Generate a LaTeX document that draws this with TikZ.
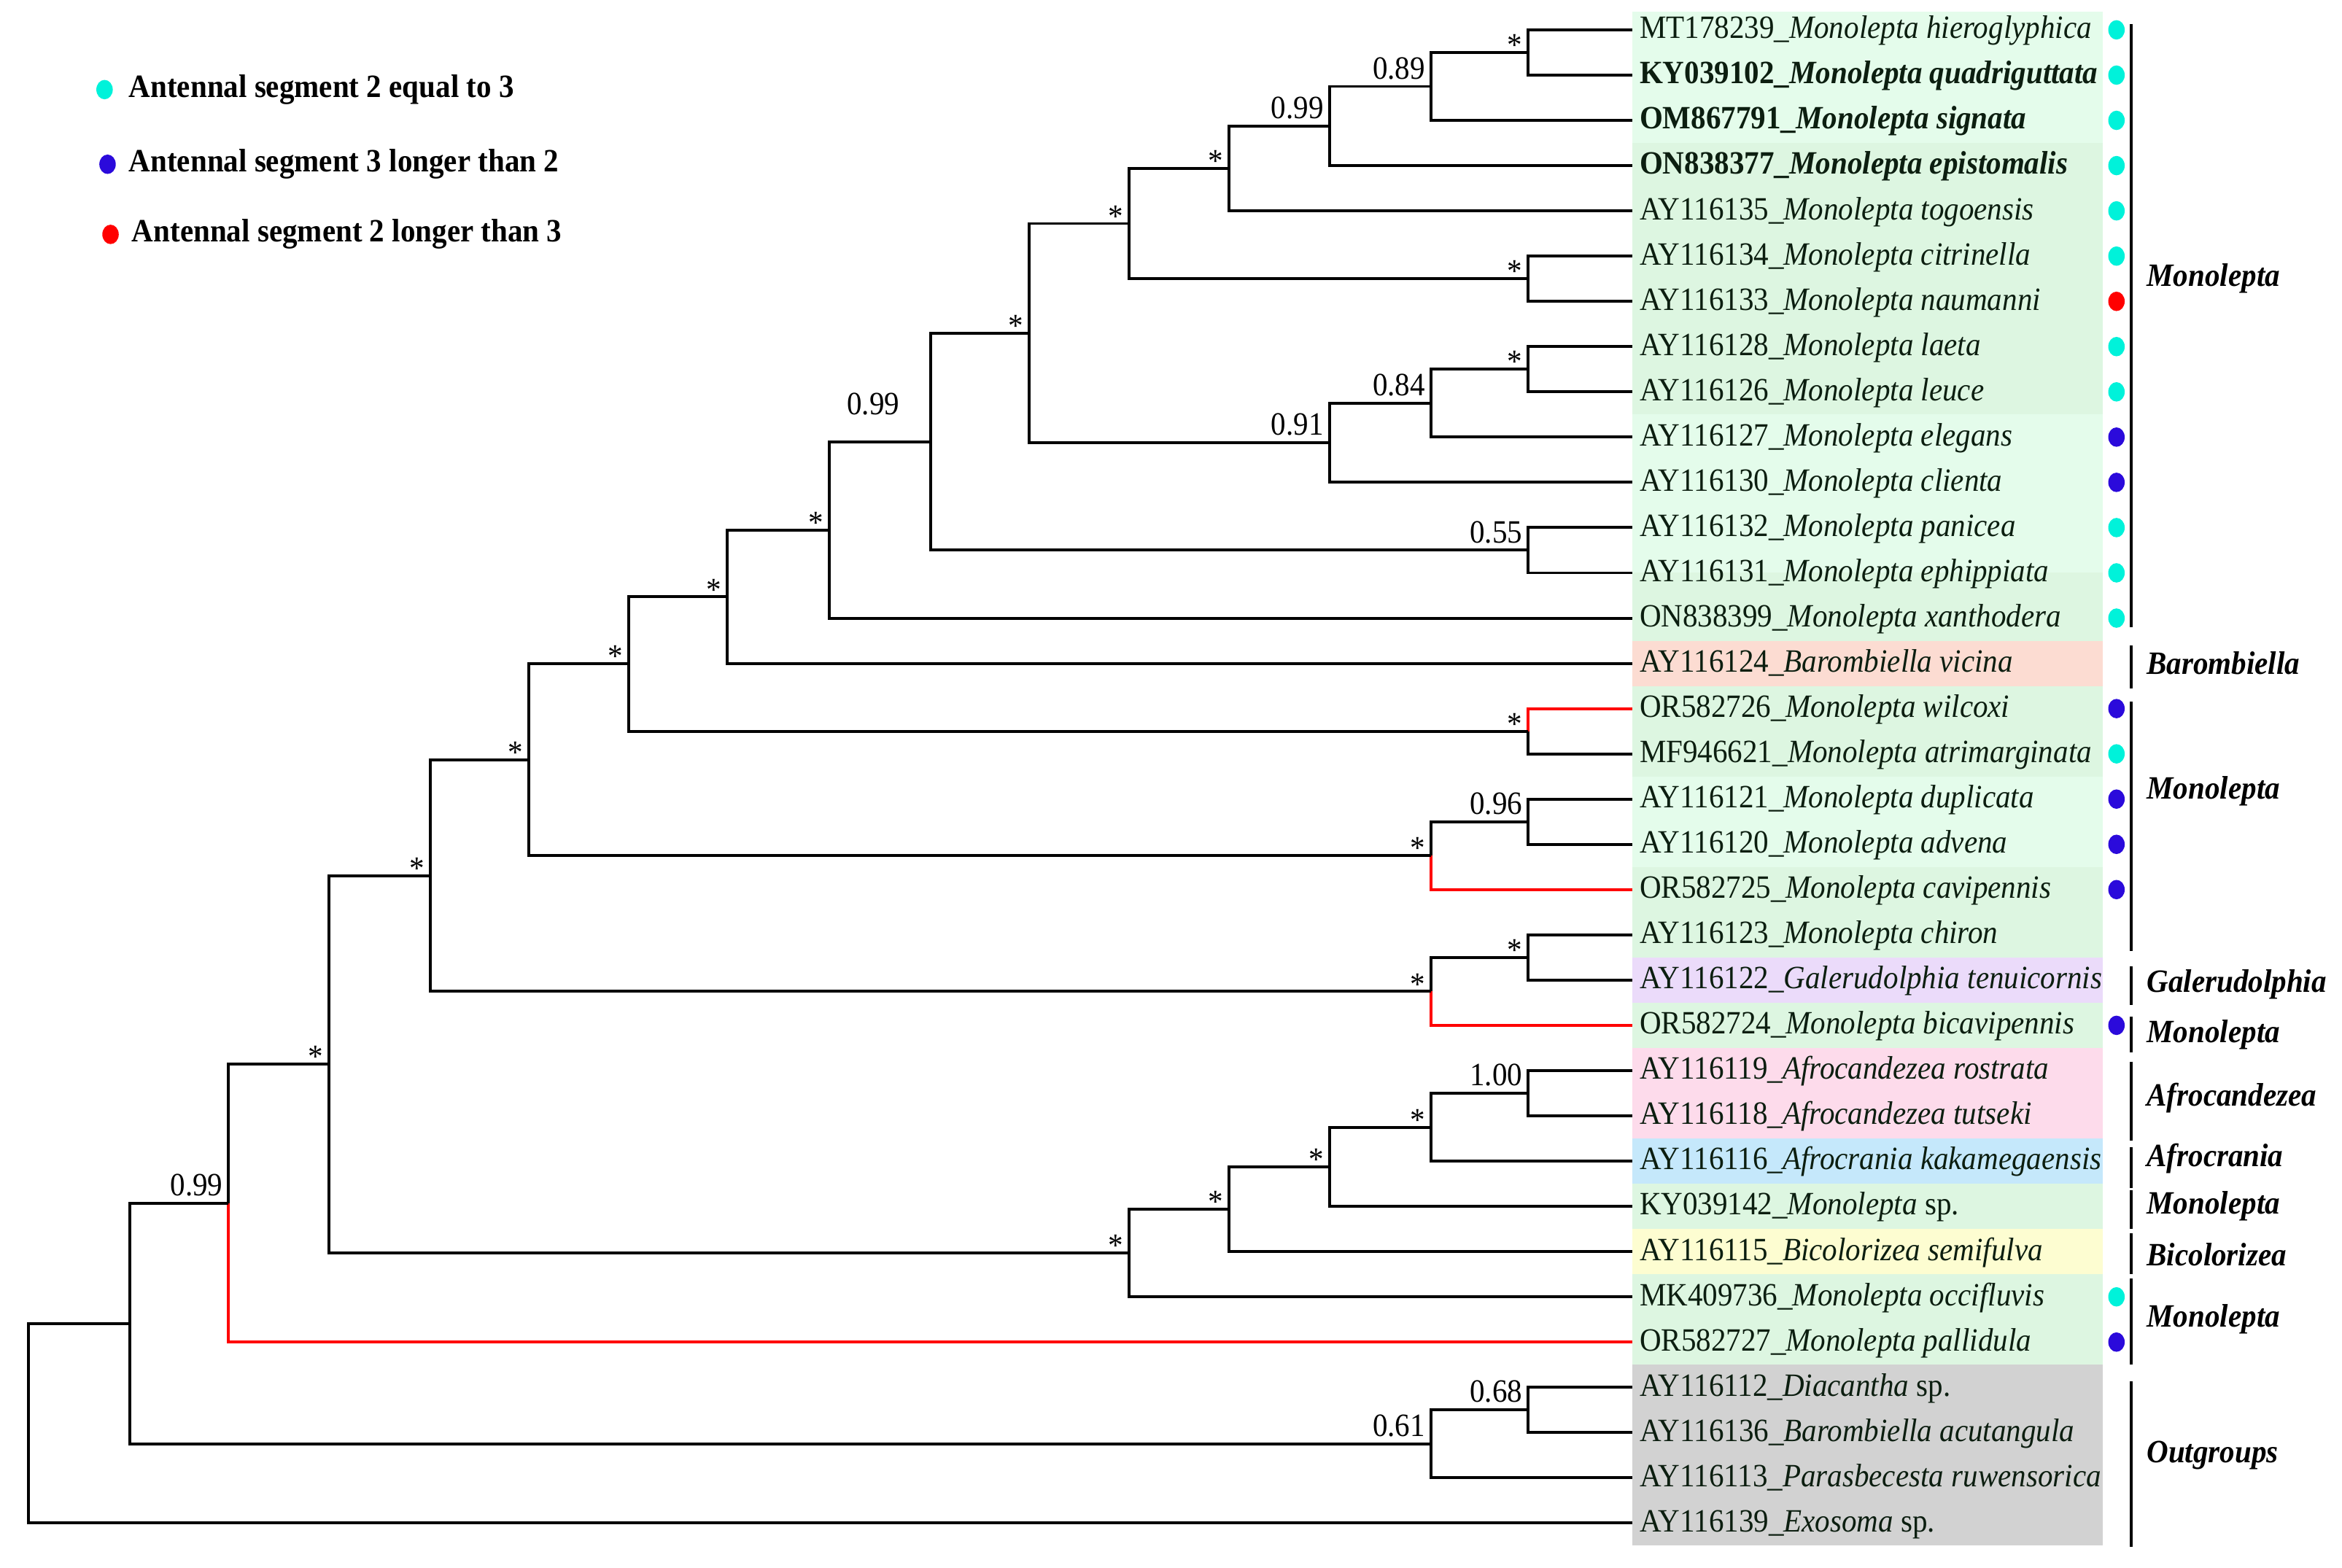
\documentclass[tikz,border=0pt]{standalone}
\usepackage{fontspec}
\setmainfont{Liberation Serif}[FakeStretch=0.92]
\usepackage{tikz}

\definecolor{bandA}{HTML}{E4FCEB}
\definecolor{bandB}{HTML}{DDF6E1}
\definecolor{salmonb}{HTML}{FCDCD2}
\definecolor{lavb}{HTML}{EBDBFA}
\definecolor{pinkb}{HTML}{FDDBEB}
\definecolor{blueb}{HTML}{C5E8FB}
\definecolor{yellb}{HTML}{FDFDD1}
\definecolor{grayb}{HTML}{D2D2D2}
\definecolor{dotcyan}{HTML}{00F2DA}
\definecolor{dotblue}{HTML}{2B0ADB}
\definecolor{dotred}{HTML}{FF0000}
\definecolor{leafink}{HTML}{0C1E10}

\tikzset{
  fnt/.style={font=\fontsize{12.4}{14}\selectfont},
  leaf/.style={fnt, text=leafink, anchor=west, inner xsep=2.5pt, inner ysep=0pt, text height=0.86em, text depth=0.2em},
  supp/.style={fnt, anchor=south east, inner xsep=2pt, inner ysep=2.5pt},
  star/.style={supp, yshift=-4pt},
  br/.style={line width=1.1pt},
  redbr/.style={br, draw=red},
  bracket/.style={line width=1.2pt},
  clade/.style={anchor=west, inner sep=0pt, font=\fontsize{12.4}{14}\selectfont\bfseries\itshape},
  legend/.style={anchor=west, inner sep=0pt, font=\fontsize{12.4}{14}\selectfont\bfseries},
  dot/.style={x radius=0.11cm, y radius=0.13cm}
}

\begin{document}
\begin{tikzpicture}[x=0.02cm, y=-0.60606cm]
\useasboundingbox (0,0.34) rectangle (1568,34.99);

% colour bands behind the names
\fill[bandA] (1093,0.6) rectangle (1408,3.5);
\fill[bandB] (1093,3.5) rectangle (1408,9.5);
\fill[bandA] (1093,9.5) rectangle (1408,13);
\fill[bandB] (1093,13) rectangle (1408,14.5);
\fill[salmonb] (1093,14.5) rectangle (1408,15.5);
\fill[bandB] (1093,15.5) rectangle (1408,17.5);
\fill[bandA] (1093,17.5) rectangle (1408,19.5);
\fill[bandB] (1093,19.5) rectangle (1408,21.5);
\fill[lavb] (1093,21.5) rectangle (1408,22.5);
\fill[bandB] (1093,22.5) rectangle (1408,23.5);
\fill[pinkb] (1093,23.5) rectangle (1408,25.5);
\fill[blueb] (1093,25.5) rectangle (1408,26.5);
\fill[bandB] (1093,26.5) rectangle (1408,27.5);
\fill[yellb] (1093,27.5) rectangle (1408,28.5);
\fill[bandB] (1093,28.5) rectangle (1408,30.5);
\fill[grayb] (1093,30.5) rectangle (1408,34.5);

% terminals
\node[leaf] (MT178239) at (1093,1) {MT178239\_\textit{Monolepta hieroglyphica}};
\node[leaf] (KY039102) at (1093,2) {\textbf{KY039102\_\textit{Monolepta quadriguttata}}};
\node[leaf] (OM867791) at (1093,3) {\textbf{OM867791\_\textit{Monolepta signata}}};
\node[leaf] (ON838377) at (1093,4) {\textbf{ON838377\_\textit{Monolepta epistomalis}}};
\node[leaf] (AY116135) at (1093,5) {AY116135\_\textit{Monolepta togoensis}};
\node[leaf] (AY116134) at (1093,6) {AY116134\_\textit{Monolepta citrinella}};
\node[leaf] (AY116133) at (1093,7) {AY116133\_\textit{Monolepta naumanni}};
\node[leaf] (AY116128) at (1093,8) {AY116128\_\textit{Monolepta laeta}};
\node[leaf] (AY116126) at (1093,9) {AY116126\_\textit{Monolepta leuce}};
\node[leaf] (AY116127) at (1093,10) {AY116127\_\textit{Monolepta elegans}};
\node[leaf] (AY116130) at (1093,11) {AY116130\_\textit{Monolepta clienta}};
\node[leaf] (AY116132) at (1093,12) {AY116132\_\textit{Monolepta panicea}};
\node[leaf] (AY116131) at (1093,13) {AY116131\_\textit{Monolepta ephippiata}};
\node[leaf] (ON838399) at (1093,14) {ON838399\_\textit{Monolepta xanthodera}};
\node[leaf] (AY116124) at (1093,15) {AY116124\_\textit{Barombiella vicina}};
\node[leaf] (OR582726) at (1093,16) {OR582726\_\textit{Monolepta wilcoxi}};
\node[leaf] (MF946621) at (1093,17) {MF946621\_\textit{Monolepta atrimarginata}};
\node[leaf] (AY116121) at (1093,18) {AY116121\_\textit{Monolepta duplicata}};
\node[leaf] (AY116120) at (1093,19) {AY116120\_\textit{Monolepta advena}};
\node[leaf] (OR582725) at (1093,20) {OR582725\_\textit{Monolepta cavipennis}};
\node[leaf] (AY116123) at (1093,21) {AY116123\_\textit{Monolepta chiron}};
\node[leaf] (AY116122) at (1093,22) {AY116122\_\textit{Galerudolphia tenuicornis}};
\node[leaf] (OR582724) at (1093,23) {OR582724\_\textit{Monolepta bicavipennis}};
\node[leaf] (AY116119) at (1093,24) {AY116119\_\textit{Afrocandezea rostrata}};
\node[leaf] (AY116118) at (1093,25) {AY116118\_\textit{Afrocandezea tutseki}};
\node[leaf] (AY116116) at (1093,26) {AY116116\_\textit{Afrocrania kakamegaensis}};
\node[leaf] (KY039142) at (1093,27) {KY039142\_\textit{Monolepta} sp.};
\node[leaf] (AY116115) at (1093,28) {AY116115\_\textit{Bicolorizea semifulva}};
\node[leaf] (MK409736) at (1093,29) {MK409736\_\textit{Monolepta occifluvis}};
\node[leaf] (OR582727) at (1093,30) {OR582727\_\textit{Monolepta pallidula}};
\node[leaf] (AY116112) at (1093,31) {AY116112\_\textit{Diacantha} sp.};
\node[leaf] (AY116136) at (1093,32) {AY116136\_\textit{Barombiella acutangula}};
\node[leaf] (AY116113) at (1093,33) {AY116113\_\textit{Parasbecesta ruwensorica}};
\node[leaf] (AY116139) at (1093,34) {AY116139\_\textit{Exosoma} sp.};

% internal nodes
\coordinate (a1) at (1023,1.5);
\coordinate (a2) at (958,2.25);
\coordinate (a3) at (890,3.125);
\coordinate (a4) at (823,4.06);
\coordinate (b1) at (1023,6.5);
\coordinate (a5) at (756,5.28);
\coordinate (c1) at (1023,8.5);
\coordinate (c2) at (958,9.25);
\coordinate (c3) at (890,10.125);
\coordinate (a6) at (689,7.70);
\coordinate (d1) at (1023,12.5);
\coordinate (a7) at (623,10.10);
\coordinate (a8) at (555,12.05);
\coordinate (a9) at (487,13.53);
\coordinate (e1) at (1023,16.5);
\coordinate (a10) at (421,15.01);
\coordinate (f1) at (1023,18.5);
\coordinate (f2) at (958,19.25);
\coordinate (a11) at (354,17.13);
\coordinate (g1) at (1023,21.5);
\coordinate (g2) at (958,22.25);
\coordinate (a12) at (288,19.69);
\coordinate (h1) at (1023,24.5);
\coordinate (h2) at (958,25.25);
\coordinate (h3) at (890,26.125);
\coordinate (h4) at (823,27.06);
\coordinate (h5) at (756,28.03);
\coordinate (a13) at (220,23.86);
\coordinate (a14) at (153,26.93);
\coordinate (o1) at (1023,31.5);
\coordinate (o2) at (958,32.25);
\coordinate (a15) at (87,29.59);
\coordinate (root) at (19,31.8);

% branches
\draw[br] (a1) |- (MT178239.west);
\draw[br] (a1) |- (KY039102.west);
\draw[br] (a2) |- (a1);
\draw[br] (a2) |- (OM867791.west);
\draw[br] (a3) |- (a2);
\draw[br] (a3) |- (ON838377.west);
\draw[br] (a4) |- (a3);
\draw[br] (a4) |- (AY116135.west);
\draw[br] (b1) |- (AY116134.west);
\draw[br] (b1) |- (AY116133.west);
\draw[br] (a5) |- (a4);
\draw[br] (a5) |- (b1);
\draw[br] (c1) |- (AY116128.west);
\draw[br] (c1) |- (AY116126.west);
\draw[br] (c2) |- (c1);
\draw[br] (c2) |- (AY116127.west);
\draw[br] (c3) |- (c2);
\draw[br] (c3) |- (AY116130.west);
\draw[br] (a6) |- (a5);
\draw[br] (a6) |- (c3);
\draw[br] (d1) |- (AY116132.west);
\draw[br] (d1) |- (AY116131.west);
\draw[br] (a7) |- (a6);
\draw[br] (a7) |- (d1);
\draw[br] (a8) |- (a7);
\draw[br] (a8) |- (ON838399.west);
\draw[br] (a9) |- (a8);
\draw[br] (a9) |- (AY116124.west);
\draw[redbr] (e1) |- (OR582726.west);
\draw[br] (e1) |- (MF946621.west);
\draw[br] (a10) |- (a9);
\draw[br] (a10) |- (e1);
\draw[br] (f1) |- (AY116121.west);
\draw[br] (f1) |- (AY116120.west);
\draw[br] (f2) |- (f1);
\draw[redbr] (f2) |- (OR582725.west);
\draw[br] (a11) |- (a10);
\draw[br] (a11) |- (f2);
\draw[br] (g1) |- (AY116123.west);
\draw[br] (g1) |- (AY116122.west);
\draw[br] (g2) |- (g1);
\draw[redbr] (g2) |- (OR582724.west);
\draw[br] (a12) |- (a11);
\draw[br] (a12) |- (g2);
\draw[br] (h1) |- (AY116119.west);
\draw[br] (h1) |- (AY116118.west);
\draw[br] (h2) |- (h1);
\draw[br] (h2) |- (AY116116.west);
\draw[br] (h3) |- (h2);
\draw[br] (h3) |- (KY039142.west);
\draw[br] (h4) |- (h3);
\draw[br] (h4) |- (AY116115.west);
\draw[br] (h5) |- (h4);
\draw[br] (h5) |- (MK409736.west);
\draw[br] (a13) |- (a12);
\draw[br] (a13) |- (h5);
\draw[br] (a14) |- (a13);
\draw[redbr] (a14) |- (OR582727.west);
\draw[br] (o1) |- (AY116112.west);
\draw[br] (o1) |- (AY116136.west);
\draw[br] (o2) |- (o1);
\draw[br] (o2) |- (AY116113.west);
\draw[br] (a15) |- (a14);
\draw[br] (a15) |- (o2);
\draw[br] (root) |- (a15);
\draw[br] (root) |- (AY116139.west);

% support values
\node[star] at (a1) {*};
\node[supp] at (a2) {0.89};
\node[supp] at (a3) {0.99};
\node[star] at (a4) {*};
\node[star] at (b1) {*};
\node[star] at (a5) {*};
\node[star] at (c1) {*};
\node[supp] at (c2) {0.84};
\node[supp] at (c3) {0.91};
\node[star] at (a6) {*};
\node[supp] at (d1) {0.55};
\node[supp, xshift=-0.34cm, yshift=0.26cm] at (a7) {0.99};
\node[star] at (a8) {*};
\node[star] at (a9) {*};
\node[star] at (e1) {*};
\node[star] at (a10) {*};
\node[supp] at (f1) {0.96};
\node[star] at (f2) {*};
\node[star] at (a11) {*};
\node[star] at (g1) {*};
\node[star] at (g2) {*};
\node[star] at (a12) {*};
\node[supp] at (h1) {1.00};
\node[star] at (h2) {*};
\node[star] at (h3) {*};
\node[star] at (h4) {*};
\node[star] at (h5) {*};
\node[star] at (a13) {*};
\node[supp] at (a14) {0.99};
\node[supp] at (o1) {0.68};
\node[supp] at (o2) {0.61};

% antenna states
\foreach \r/\c in {1/dotcyan,2/dotcyan,3/dotcyan,4/dotcyan,5/dotcyan,6/dotcyan,
    7/dotred,8/dotcyan,9/dotcyan,10/dotblue,11/dotblue,12/dotcyan,13/dotcyan,
    14/dotcyan,16/dotblue,17/dotcyan,18/dotblue,19/dotblue,20/dotblue,
    23/dotblue,29/dotcyan,30/dotblue}
  \fill[\c] (1417,\r) ellipse [dot];

% genus brackets
\draw[bracket] (1427,0.87) -- (1427,14.2);
\node[clade] (g-mono1) at (1437,6.5) {Monolepta};
\draw[bracket] (1427,14.6) -- (1427,15.55);
\node[clade] (g-baro) at (1437,15) {Barombiella};
\draw[bracket] (1427,15.85) -- (1427,21.36);
\node[clade] (g-mono2) at (1437,17.83) {Monolepta};
\draw[bracket] (1427,21.7) -- (1427,22.55);
\node[clade] (g-gale) at (1437,22.1) {Galerudolphia};
\draw[bracket] (1427,22.8) -- (1427,23.6);
\node[clade] (g-mono3) at (1437,23.2) {Monolepta};
\draw[bracket] (1427,23.8) -- (1427,25.55);
\node[clade] (g-afca) at (1437,24.6) {Afrocandezea};
\draw[bracket] (1427,25.7) -- (1427,26.6);
\node[clade] (g-afcr) at (1437,25.95) {Afrocrania};
\draw[bracket] (1427,26.65) -- (1427,27.5);
\node[clade] (g-mono4) at (1437,27) {Monolepta};
\draw[bracket] (1427,27.6) -- (1427,28.5);
\node[clade] (g-bico) at (1437,28.06) {Bicolorizea};
\draw[bracket] (1427,28.6) -- (1427,30.5);
\node[clade] (g-mono5) at (1437,29.5) {Monolepta};
\draw[bracket] (1427,30.87) -- (1427,34.53);
\node[clade] (g-out) at (1437,32.5) {Outgroups};

% legend
\fill[dotcyan] (70,2.32) ellipse [dot];
\node[legend] (leg-eq) at (86,2.32) {Antennal segment 2 equal to 3};
\fill[dotblue] (72,3.97) ellipse [dot];
\node[legend] (leg-3l) at (86,3.97) {Antennal segment 3 longer than 2};
\fill[dotred] (74,5.52) ellipse [dot];
\node[legend] (leg-2l) at (88,5.52) {Antennal segment 2 longer than 3};
\end{tikzpicture}
\end{document}
